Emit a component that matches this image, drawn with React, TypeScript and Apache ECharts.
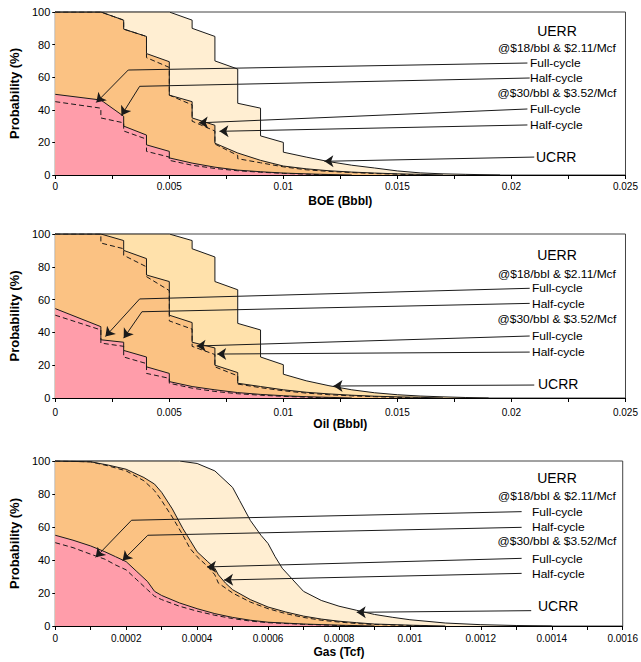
import React, { useEffect, useRef } from 'react';
import * as echarts from 'echarts';

// ---------- tick labels ----------
const BBL_X_LABELS = ['0', '0.005', '0.01', '0.015', '0.02', '0.025'];
const GAS_X_LABELS = ['0', '0.0002', '0.0004', '0.0006', '0.0008', '0.001', '0.0012', '0.0014', '0.0016'];
const Y_LABELS = ['0', '20', '40', '60', '80', '100'];
const AXIS_NAMES = ['BOE (Bbbl)', 'Oil (Bbbl)', 'Gas (Tcf)'];

// ---------- BOE ----------
const boeUcrr = [[0, 100], [0.005, 100], [0.006, 95], [0.006, 90], [0.007, 85], [0.007, 70], [0.008, 65], [0.008, 44], [0.009, 41], [0.009, 24], [0.01, 20], [0.01, 14], [0.011, 11], [0.012, 8.2], [0.013, 6], [0.014, 4.3], [0.015, 2.5], [0.016, 1.3], [0.017, 0.7], [0.018, 0.4], [0.0195, 0]];
const boe30Half = [[0, 100], [0.002, 100], [0.003, 95], [0.003, 89.5], [0.004, 85], [0.004, 74.5], [0.005, 69.5], [0.005, 49], [0.006, 45], [0.006, 35], [0.007, 30.5], [0.007, 19.5], [0.008, 13.5], [0.009, 9], [0.01, 5.5], [0.011, 3.8], [0.012, 2.6], [0.013, 1.8], [0.014, 1.2], [0.015, 0.7], [0.016, 0.4], [0.017, 0]];
const boe30Full = [[0, 100], [0.002, 100], [0.003, 95], [0.003, 89.5], [0.004, 85], [0.004, 72], [0.005, 66], [0.005, 49], [0.006, 43], [0.006, 33], [0.007, 27], [0.007, 19], [0.008, 12], [0.008, 10], [0.009, 7.5], [0.01, 5], [0.011, 3.2], [0.012, 2.2], [0.013, 1.5], [0.014, 0.9], [0.015, 0.5], [0.016, 0]];
const boe18Half = [[0, 49.5], [0.002, 46], [0.003, 36], [0.003, 30], [0.004, 24.5], [0.004, 18.5], [0.005, 14.5], [0.005, 10.5], [0.006, 7.3], [0.007, 4.8], [0.008, 3], [0.009, 2], [0.01, 1.2], [0.011, 0.7], [0.012, 0.3], [0.013, 0]];
const boe18Full = [[0, 45], [0.002, 41], [0.002, 35], [0.003, 32], [0.003, 27], [0.004, 22], [0.004, 14.5], [0.005, 11], [0.005, 9], [0.006, 6], [0.007, 4], [0.008, 2.6], [0.009, 1.7], [0.01, 1], [0.011, 0.5], [0.012, 0]];
const boeArrows = [
  [[0.0207, 68.7], [0.0032, 64.4], [0.0018, 44.5]],
  [[0.0208, 59.5], [0.0037, 54.4], [0.0029, 36.5]],
  [[0.0207, 40.5], [0.0063, 32]],
  [[0.0207, 30.7], [0.0072, 26.8]],
  [[0.021, 11], [0.0118, 8.4]],
];

// ---------- Oil ----------
const oilUcrr = [[0, 100], [0.005, 100], [0.006, 96], [0.006, 91], [0.007, 86], [0.007, 71], [0.008, 66], [0.008, 45.5], [0.009, 41.5], [0.009, 25], [0.01, 20.3], [0.01, 14.5], [0.011, 10.5], [0.012, 7.5], [0.013, 5], [0.014, 3.2], [0.015, 2], [0.016, 1.2], [0.017, 0.7], [0.018, 0.3], [0.019, 0]];
const oil30Half = [[0, 100], [0.002, 100], [0.003, 96], [0.003, 90], [0.004, 85], [0.004, 75], [0.005, 71], [0.005, 50.5], [0.006, 46], [0.006, 34], [0.007, 30.5], [0.007, 20], [0.008, 15.5], [0.008, 9], [0.009, 7], [0.01, 5], [0.011, 3.5], [0.012, 2.5], [0.013, 1.7], [0.014, 1.1], [0.015, 0.7], [0.016, 0.4], [0.017, 0]];
const oil30Full = [[0, 100], [0.002, 100], [0.002, 94.5], [0.003, 91], [0.003, 87], [0.004, 80], [0.004, 74], [0.005, 65.5], [0.005, 47], [0.006, 42], [0.006, 31.5], [0.007, 26.5], [0.007, 19], [0.008, 13.5], [0.008, 8.5], [0.009, 6.3], [0.01, 4.4], [0.011, 3], [0.012, 2], [0.013, 1.3], [0.014, 0.8], [0.015, 0.4], [0.016, 0]];
const oil18Half = [[0, 54.5], [0.002, 43.5], [0.002, 35.5], [0.003, 34], [0.003, 29], [0.004, 25], [0.004, 19], [0.005, 15], [0.005, 10], [0.006, 7], [0.007, 5], [0.008, 3.3], [0.009, 2.2], [0.01, 1.4], [0.011, 0.8], [0.012, 0.4], [0.013, 0]];
const oil18Full = [[0, 50.5], [0.002, 41.5], [0.002, 33.5], [0.003, 31.5], [0.003, 25], [0.004, 21], [0.004, 15], [0.005, 12], [0.005, 9], [0.006, 6], [0.007, 4], [0.008, 2.6], [0.009, 1.7], [0.01, 1], [0.011, 0.5], [0.012, 0]];
const oilArrows = [
  [[0.0208, 66.9], [0.0037, 60.4], [0.0022, 37.5]],
  [[0.0208, 57.7], [0.0038, 52.6], [0.003, 36.5]],
  [[0.0208, 37.8], [0.0062, 31.7]],
  [[0.0208, 28], [0.0071, 26.8]],
  [[0.021, 7.9], [0.0122, 7.3]],
];

// ---------- Gas ----------
const gasUcrr = [[0, 100], [0.00035, 100], [0.0004, 98.5], [0.00045, 94], [0.0005, 84], [0.00052, 76], [0.00055, 64], [0.00058, 55], [0.0006, 50], [0.00062, 42], [0.00064, 35], [0.00067, 28], [0.0007, 21], [0.00075, 15.5], [0.0008, 12], [0.00085, 9.5], [0.0009, 7], [0.00095, 5.3], [0.001, 3.8], [0.0011, 1.8], [0.0012, 0.8], [0.0013, 0.3], [0.0014, 0]];
const gas30Half = [[0, 100], [0.0001, 99.5], [0.00015, 97.5], [0.0002, 95], [0.00025, 90], [0.00028, 86], [0.0003, 81], [0.00033, 71], [0.00036, 59], [0.00038, 52], [0.0004, 45], [0.00043, 39], [0.00045, 35], [0.00046, 31], [0.00048, 26], [0.0005, 22], [0.00055, 16], [0.0006, 11.5], [0.00065, 8.5], [0.0007, 6], [0.00075, 4.2], [0.0008, 2.9], [0.00085, 2], [0.0009, 1.2], [0.001, 0.5], [0.0011, 0]];
const gas30Full = [[0, 100], [0.0001, 99.5], [0.00015, 97], [0.0002, 94], [0.00025, 88], [0.00028, 82], [0.0003, 76], [0.00033, 66], [0.00036, 55], [0.00038, 47], [0.0004, 42], [0.00043, 36], [0.00045, 31], [0.00046, 26], [0.00048, 23], [0.0005, 20], [0.00055, 14.5], [0.0006, 10.5], [0.00065, 7.5], [0.0007, 5.2], [0.00075, 3.5], [0.0008, 2.4], [0.00085, 1.5], [0.0009, 0.9], [0.001, 0.3], [0.00105, 0]];
const gas18Half = [[0, 55], [0.00005, 52], [0.0001, 48.5], [0.00014, 45], [0.00017, 42], [0.0002, 39], [0.00023, 33], [0.00026, 27], [0.00028, 21], [0.0003, 18.5], [0.00035, 14], [0.0004, 10.5], [0.00045, 7.5], [0.0005, 5.2], [0.00055, 3.5], [0.0006, 2.3], [0.0007, 1.2], [0.0008, 0.5], [0.0009, 0]];
const gas18Full = [[0, 50.5], [0.00005, 47.5], [0.0001, 43.5], [0.00014, 40.5], [0.00017, 37], [0.0002, 34], [0.00023, 28], [0.00026, 22], [0.00028, 18], [0.0003, 16], [0.00035, 12], [0.0004, 9], [0.00045, 6.5], [0.0005, 4.5], [0.00055, 3], [0.0006, 2], [0.0007, 1], [0.0008, 0.3], [0.00085, 0]];
const gasArrows = [
  [[0.001315, 69.3], [0.000215, 64.1], [0.000114, 41.6]],
  [[0.001315, 59.8], [0.000261, 55], [0.00019, 39.7]],
  [[0.001315, 41], [0.000428, 35.8]],
  [[0.001315, 31.9], [0.000476, 27.9]],
  [[0.001342, 9.3], [0.00085, 8.3]],
];

// ---------- annotation texts ----------
const ANNOT_TEXTS = ['UERR', '@$18/bbl & $2.11/Mcf', 'Full-cycle', 'Half-cycle', '@$30/bbl & $3.52/Mcf', 'Full-cycle', 'Half-cycle', 'UCRR'];
const ANNOT_KIND = ['bigC', 'smallC', 'smallL', 'smallL', 'smallC', 'smallL', 'smallL', 'bigL'];
const ANNOT_Y = [
  [31, 48, 63, 78, 93, 109, 125, 157],
  [255, 274, 288, 304, 319, 336, 352, 384],
  [478, 496, 512, 527, 541, 559, 574, 606],
];
const ANNOT_LEFT = [530, 532, 532];

const FONT = '"Liberation Sans", Arial, sans-serif';
const LINE = '#1a1a1a';
const PINK = '#FF9DAA';
const ORANGE = '#FBC283';
const CREAM = ['#FFEED2', '#FFE1AB', '#FFEED2'];

const GRIDS = [
  { left: 50, top: 12, width: 576, height: 163 },
  { left: 50, top: 234, width: 576, height: 164 },
  { left: 50, top: 461, width: 576, height: 165 },
];
const X_MAX = [0.025, 0.025, 0.0016];
const X_STEP = [0.0025, 0.0025, 0.0001];
const X_LABELS = [BBL_X_LABELS, BBL_X_LABELS, GAS_X_LABELS];
const X_LABEL_MARGIN = [6, 9, 7];
const X_NAME_GAP = [20, 19, 20];

const PANELS = [
  { ucrr: boeUcrr, h30: boe30Half, f30: boe30Full, h18: boe18Half, f18: boe18Full, arrows: boeArrows },
  { ucrr: oilUcrr, h30: oil30Half, f30: oil30Full, h18: oil18Half, f18: oil18Full, arrows: oilArrows },
  { ucrr: gasUcrr, h30: gas30Half, f30: gas30Full, h18: gas18Half, f18: gas18Full, arrows: gasArrows },
];

function buildOption() {
  const series: any[] = [];
  const graphic: any[] = [];
  PANELS.forEach((p, i) => {
    const area = (data: number[][], color: string) => ({
      type: 'line', xAxisIndex: i, yAxisIndex: i, data, symbol: 'none', showSymbol: false,
      lineStyle: { color: LINE, width: 1 }, areaStyle: { color, opacity: 1 }, silent: true, z: 2,
    });
    const dash = (data: number[][]) => ({
      type: 'line', xAxisIndex: i, yAxisIndex: i, data, symbol: 'none', showSymbol: false,
      lineStyle: { color: LINE, width: 1, type: [5, 3] }, silent: true, z: 2,
    });
    series.push(area(p.ucrr, CREAM[i]));
    series.push(area(p.h30, ORANGE));
    series.push(dash(p.f30));
    series.push(area(p.h18, PINK));
    series.push(dash(p.f18));

    const plain: any[] = [];
    const heads: any[] = [];
    p.arrows.forEach((pts) => {
      for (let k = 0; k < pts.length - 1; k++) {
        const seg = { coords: [pts[k], pts[k + 1]] };
        if (k === pts.length - 2) heads.push(seg); else plain.push(seg);
      }
    });
    const linesBase = {
      type: 'lines', coordinateSystem: 'cartesian2d', xAxisIndex: i, yAxisIndex: i, silent: true, z: 5,
      lineStyle: { color: LINE, width: 1, opacity: 1, curveness: 0 },
    };
    series.push({ ...linesBase, symbol: ['none', 'none'], data: plain });
    series.push({ ...linesBase, symbol: ['none', 'arrow'], symbolSize: [7, 9], data: heads });

    ANNOT_TEXTS.forEach((t, k) => {
      const kind = ANNOT_KIND[k];
      const big = kind.startsWith('big');
      const center = kind.endsWith('C');
      graphic.push({
        type: 'text',
        x: center ? 557 : (kind === 'bigL' ? ANNOT_LEFT[i] + 6 : ANNOT_LEFT[i]),
        y: ANNOT_Y[i][k],
        scaleX: big ? 1 : 1.2,
        silent: true,
        z: 10,
        style: {
          text: t, fill: '#000', font: `${big ? 14 : 10}px ${FONT}`,
          align: center ? 'center' : 'left', verticalAlign: 'middle',
          textAlign: center ? 'center' : 'left', textVerticalAlign: 'middle',
        },
      });
    });
  });

  return {
    animation: false,
    backgroundColor: '#fff',
    grid: GRIDS.map((g) => ({ ...g, show: true, borderColor: '#444', borderWidth: 1, backgroundColor: 'transparent' })),
    xAxis: GRIDS.map((_, i) => ({
      type: 'value', gridIndex: i, min: 0, max: X_MAX[i], interval: X_STEP[i],
      name: AXIS_NAMES[i], nameLocation: 'middle', nameGap: X_NAME_GAP[i],
      nameTextStyle: { fontFamily: FONT, fontWeight: 'bold', fontSize: 12, color: '#000' },
      axisLine: { show: true, onZero: false, lineStyle: { color: '#000', width: 1 } },
      axisTick: { show: true, length: 4, lineStyle: { color: '#000' } },
      splitLine: { show: false },
      axisLabel: {
        fontFamily: FONT, fontSize: 10, color: '#000', margin: X_LABEL_MARGIN[i], showMaxLabel: true, showMinLabel: true,
        formatter: (v: number) => {
          const k = Math.round(v / X_STEP[i]);
          return k % 2 === 0 ? (X_LABELS[i][k / 2] ?? '') : '';
        },
      },
    })),
    yAxis: GRIDS.map((_, i) => ({
      type: 'value', gridIndex: i, min: 0, max: 100, interval: 20,
      name: 'Probability (%)', nameLocation: 'middle', nameGap: 28,
      nameTextStyle: { fontFamily: FONT, fontWeight: 'bold', fontSize: 13, color: '#000' },
      axisLine: { show: true, lineStyle: { color: '#000', width: 1 } },
      axisTick: { show: true, length: 3, lineStyle: { color: '#000' } },
      splitLine: { show: false },
      axisLabel: {
        fontFamily: FONT, fontSize: 11, color: '#000', margin: 5,
        formatter: (v: number) => Y_LABELS[Math.round(v / 20)] ?? '',
      },
    })),
    series,
    graphic,
  };
}

export default function App() {
  const ref = useRef<HTMLDivElement>(null);
  useEffect(() => {
    if (!ref.current) return;
    const chart = echarts.init(ref.current, null, { renderer: 'svg' });
    chart.setOption(buildOption() as any);
    return () => chart.dispose();
  }, []);
  return (
    <div
      ref={ref}
      style={{ position: 'absolute', left: 0, top: 0, width: 641, height: 662, background: '#fff' }}
    />
  );
}
